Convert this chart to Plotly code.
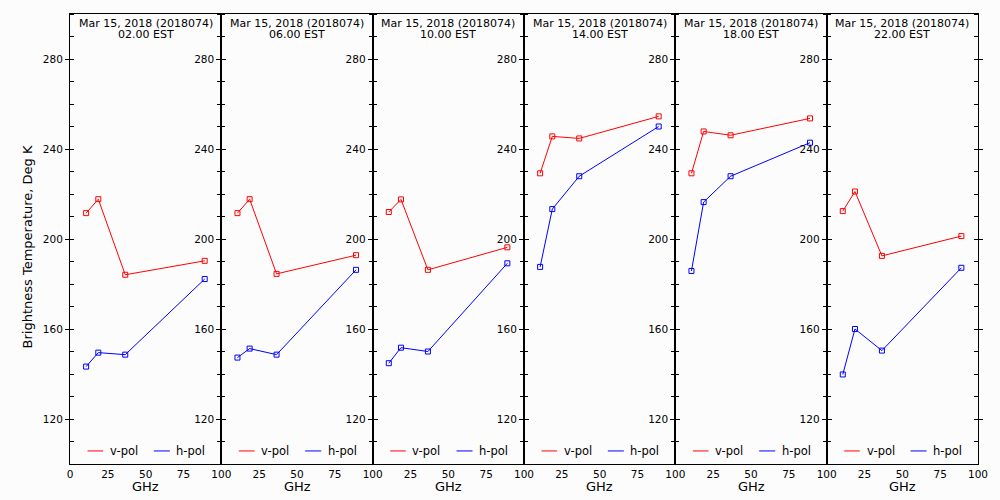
import plotly.graph_objects as go

# ---------------- data ----------------
freqs = [10.65, 18.7, 36.5, 89.0]
date_label = "Mar 15, 2018 (2018074)"
times = ["02.00 EST", "06.00 EST", "10.00 EST", "14.00 EST", "18.00 EST", "22.00 EST"]

v_pol_02 = [211.5, 217.7, 184.1, 190.3]
v_pol_06 = [211.5, 217.7, 184.5, 192.8]
v_pol_10 = [212.0, 217.6, 186.3, 196.3]
v_pol_14 = [229.2, 245.6, 244.7, 254.5]
v_pol_18 = [229.2, 247.8, 246.1, 253.6]
v_pol_22 = [212.4, 221.1, 192.5, 201.3]

h_pol_02 = [143.3, 149.5, 148.6, 182.2]
h_pol_06 = [147.3, 151.3, 148.6, 186.3]
h_pol_10 = [144.8, 151.7, 150.0, 189.2]
h_pol_14 = [187.6, 213.3, 227.9, 250.0]
h_pol_18 = [185.8, 216.4, 227.9, 242.8]
h_pol_22 = [139.8, 160.0, 150.4, 187.2]

v_pol = [v_pol_02, v_pol_06, v_pol_10, v_pol_14, v_pol_18, v_pol_22]
h_pol = [h_pol_02, h_pol_06, h_pol_10, h_pol_14, h_pol_18, h_pol_22]

y_ticks = [120, 160, 200, 240, 280]
x_ticks_first = [0, 25, 50, 75, 100]
x_ticks_other = [25, 50, 75, 100]

# ---------------- figure ----------------
FONT = "DejaVu Sans"
RED = "#ff0000"
BLUE = "#0000ff"
n = len(times)

fig = go.Figure()
layout = dict(
    width=1000, height=500,
    margin=dict(l=70, r=20, t=14, b=36),
    paper_bgcolor="#fcfcfc", plot_bgcolor="#fcfcfc",
    showlegend=False,
    font=dict(family=FONT, size=11, color="#000000"),
)
shapes = []
annotations = []

for i in range(n):
    k = i + 1
    xs = "" if k == 1 else str(k)
    xname, yname = "x" + xs, "y" + xs
    d0, d1 = i / n, (i + 1) / n

    fig.add_trace(go.Scatter(x=freqs, y=v_pol[i], mode="lines+markers", xaxis=xname, yaxis=yname,
                             line=dict(color=RED, width=1),
                             marker=dict(symbol="square-open", size=5, color=RED, line=dict(width=1, color=RED)),
                             name="v-pol"))
    fig.add_trace(go.Scatter(x=freqs, y=h_pol[i], mode="lines+markers", xaxis=xname, yaxis=yname,
                             line=dict(color=BLUE, width=1),
                             marker=dict(symbol="square-open", size=5, color=BLUE, line=dict(width=1, color=BLUE)),
                             name="h-pol"))

    tv = x_ticks_first if k == 1 else x_ticks_other
    layout["xaxis" + xs] = dict(
        domain=[d0, d1], anchor=yname, range=[0, 100],
        tickmode="array", tickvals=tv, ticktext=[str(t) for t in tv],
        ticks="", showgrid=False, zeroline=False,
        showline=True, linecolor="#000000", linewidth=1, mirror=True,
        tickfont=dict(family=FONT, size=10.5, color="#000000"),
    )
    # top axis with inward ticks only
    top = "xaxis" + str(k + n)
    layout[top] = dict(
        domain=[d0, d1], anchor=yname, overlaying=xname, side="top", range=[0, 100],
        tickmode="array", tickvals=[25, 50, 75], ticks="inside", ticklen=4,
        tickcolor="#000000", showticklabels=False, showgrid=False, zeroline=False,
        showline=False,
    )
    layout["yaxis" + xs] = dict(
        domain=[0, 1], anchor=xname, range=[100, 300],
        tickmode="array", tickvals=y_ticks, ticktext=[str(t) for t in y_ticks],
        ticks="outside", ticklen=4, tickcolor="#000000",
        minor=dict(tickmode="linear", tick0=100, dtick=10, ticks="inside", ticklen=4,
                   tickcolor="#000000", showgrid=False),
        showgrid=False, zeroline=False,
        showline=True, linecolor="#000000", linewidth=1, mirror="ticks",
        tickfont=dict(family=FONT, size=10.5, color="#000000"),
    )

    dref = xname + " domain"
    # panel titles
    annotations.append(dict(text=date_label, xref=dref, yref="paper", x=0.5, y=1,
                            xanchor="center", yanchor="top", yshift=-1, showarrow=False,
                            font=dict(family=FONT, size=11)))
    annotations.append(dict(text=times[i], xref=dref, yref="paper", x=0.5, y=1,
                            xanchor="center", yanchor="top", yshift=-12, showarrow=False,
                            font=dict(family=FONT, size=11)))
    # x title
    annotations.append(dict(text="GHz", xref=dref, yref="paper", x=0.5, y=-0.051,
                            xanchor="center", yanchor="middle", showarrow=False,
                            font=dict(family=FONT, size=13)))
    # per-panel legend
    ly = 0.029
    shapes.append(dict(type="line", xref=dref, yref="paper", x0=0.116, x1=0.219, y0=ly, y1=ly,
                       line=dict(color=RED, width=1)))
    shapes.append(dict(type="line", xref=dref, yref="paper", x0=0.554, x1=0.66, y0=ly, y1=ly,
                       line=dict(color=BLUE, width=1)))
    annotations.append(dict(text="v-pol", xref=dref, yref="paper", x=0.25, y=ly,
                            xanchor="left", yanchor="middle", showarrow=False,
                            font=dict(family=FONT, size=11.5)))
    annotations.append(dict(text="h-pol", xref=dref, yref="paper", x=0.69, y=ly,
                            xanchor="left", yanchor="middle", showarrow=False,
                            font=dict(family=FONT, size=11.5)))

annotations.append(dict(text="Brightness Temperature, Deg K", xref="paper", yref="paper",
                        x=-0.047, y=0.482, xanchor="center", yanchor="middle", textangle=-90,
                        showarrow=False, font=dict(family=FONT, size=13)))

layout["shapes"] = shapes
layout["annotations"] = annotations
fig.update_layout(**layout)
fig.write_html("out.html", config={"displayModeBar": False})

# remove the browser's default page margin so the figure sits at (0,0)
with open("out.html", "r", encoding="utf-8") as f:
    html = f.read()
html = html.replace("<body>", '<body style="margin:0;padding:0;">', 1)
with open("out.html", "w", encoding="utf-8") as f:
    f.write(html)
